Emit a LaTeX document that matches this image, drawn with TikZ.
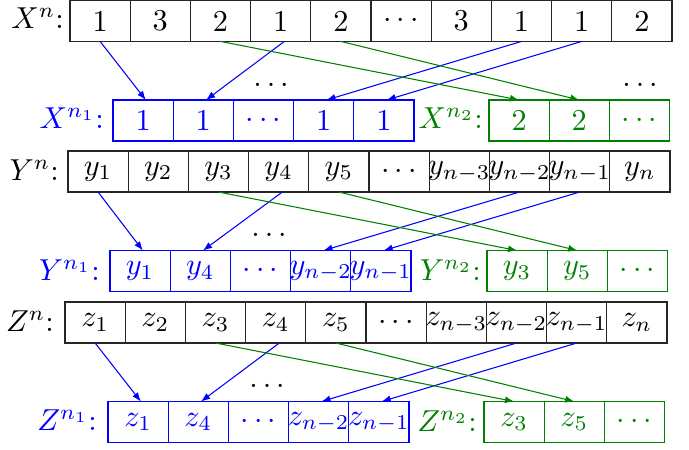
\documentclass[tikz,border=0pt]{standalone}
\usetikzlibrary{arrows.meta}
\definecolor{bl}{rgb}{0,0,1}
\definecolor{gr}{rgb}{0,0.5,0}
\definecolor{ln}{rgb}{0.15,0.15,0.15}
\tikzset{
  cell/.style={draw=ln,line width=0.35pt,minimum width=19.87pt,minimum height=13.53pt,inner sep=0pt,outer sep=0pt},
  lab/.style={inner sep=0pt,anchor=base east},
  arr/.style={line width=0.35pt,-{Latex[length=3pt,width=2.3pt]}},
  dts/.style={inner sep=0pt}
}
\newcommand\mkrow[5]{\foreach \t [count=\i] in {#5}{\node[cell,#4] (#1\i) at ({#2+(\i-0.5)*60.2},#3) {\makebox[0pt]{\t}};}}
\begin{document}
\begin{tikzpicture}[x=0.33pt,y=-0.33pt]
\useasboundingbox (0,0) rectangle (689,449);
% ---------------- X block
\mkrow{Xt}{70}{20.9}{}{1,3,2,1,2,$\cdots$,3,1,1,2}
\mkrow{Xa}{113}{120.5}{draw=bl,text=bl}{1,1,$\cdots$,1,1}
\mkrow{Xb}{489}{120.5}{draw=gr,text=gr}{2,2,$\cdots$}
\node[lab] (XL) at (64.5,28.3) {$X^n$:};
\node[lab,text=bl] (XLa) at (104.5,128.3) {$X^{n_1}$:};
\node[lab,text=gr] (XLb) at (483.5,128.3) {$X^{n_2}$:};
\node[dts] (Xd1) at (271,85) {$\ldots$};
\node[dts] (Xd2) at (640,85) {$\ldots$};
\draw[arr,bl] (Xt1.south) -- ([xshift=0.9pt]Xa1.north);
\draw[arr,bl] ([xshift=1.2pt]Xt4.south) -- ([xshift=0.9pt]Xa2.north);
\draw[arr,bl] (Xt8.south) -- ([xshift=0.9pt]Xa4.north);
\draw[arr,bl] (Xt9.south) -- ([xshift=0.9pt]Xa5.north);
\draw[arr,gr] (Xt3.south) -- (Xb1.north);
\draw[arr,gr] (Xt5.south) -- (Xb2.north);
% ---------------- Y block
\mkrow{Yt}{68}{171.5}{}{$y_1$,$y_2$,$y_3$,$y_4$,$y_5$,$\cdots$,$y_{n-3}$,$y_{n-2}$,$y_{n-1}$,$y_n$}
\mkrow{Ya}{110}{271}{draw=bl,text=bl}{$y_1$,$y_4$,$\cdots$,$y_{n-2}$,$y_{n-1}$}
\mkrow{Yb}{487}{271}{draw=gr,text=gr}{$y_3$,$y_5$,$\cdots$}
\node[lab] (YL) at (59.5,180) {$Y^n$:};
\node[lab,text=bl] (YLa) at (100.5,280) {$Y^{n_1}$:};
\node[lab,text=gr] (YLb) at (481.5,280) {$Y^{n_2}$:};
\node[dts] (Yd1) at (269,235) {$\ldots$};
\draw[arr,bl] (Yt1.south) -- ([xshift=0.9pt]Ya1.north);
\draw[arr,bl] ([xshift=1.2pt]Yt4.south) -- ([xshift=0.9pt]Ya2.north);
\draw[arr,bl] (Yt8.south) -- ([xshift=0.9pt]Ya4.north);
\draw[arr,bl] (Yt9.south) -- ([xshift=0.9pt]Ya5.north);
\draw[arr,gr] (Yt3.south) -- (Yb1.north);
\draw[arr,gr] (Yt5.south) -- (Yb2.north);
% ---------------- Z block
\mkrow{Zt}{65}{322.5}{}{$z_1$,$z_2$,$z_3$,$z_4$,$z_5$,$\cdots$,$z_{n-3}$,$z_{n-2}$,$z_{n-1}$,$z_n$}
\mkrow{Za}{108}{422}{draw=bl,text=bl}{$z_1$,$z_4$,$\cdots$,$z_{n-2}$,$z_{n-1}$}
\mkrow{Zb}{484}{422}{draw=gr,text=gr}{$z_3$,$z_5$,$\cdots$}
\node[lab] (ZL) at (54.5,331) {$Z^n$:};
\node[lab,text=bl] (ZLa) at (97.5,430) {$Z^{n_1}$:};
\node[lab,text=gr] (ZLb) at (477.5,431) {$Z^{n_2}$:};
\node[dts] (Zd1) at (267,386) {$\ldots$};
\draw[arr,bl] (Zt1.south) -- ([xshift=0.9pt]Za1.north);
\draw[arr,bl] ([xshift=1.2pt]Zt4.south) -- ([xshift=0.9pt]Za2.north);
\draw[arr,bl] (Zt8.south) -- ([xshift=0.9pt]Za4.north);
\draw[arr,bl] (Zt9.south) -- ([xshift=0.9pt]Za5.north);
\draw[arr,gr] (Zt3.south) -- (Zb1.north);
\draw[arr,gr] (Zt5.south) -- (Zb2.north);
\end{tikzpicture}
\end{document}
